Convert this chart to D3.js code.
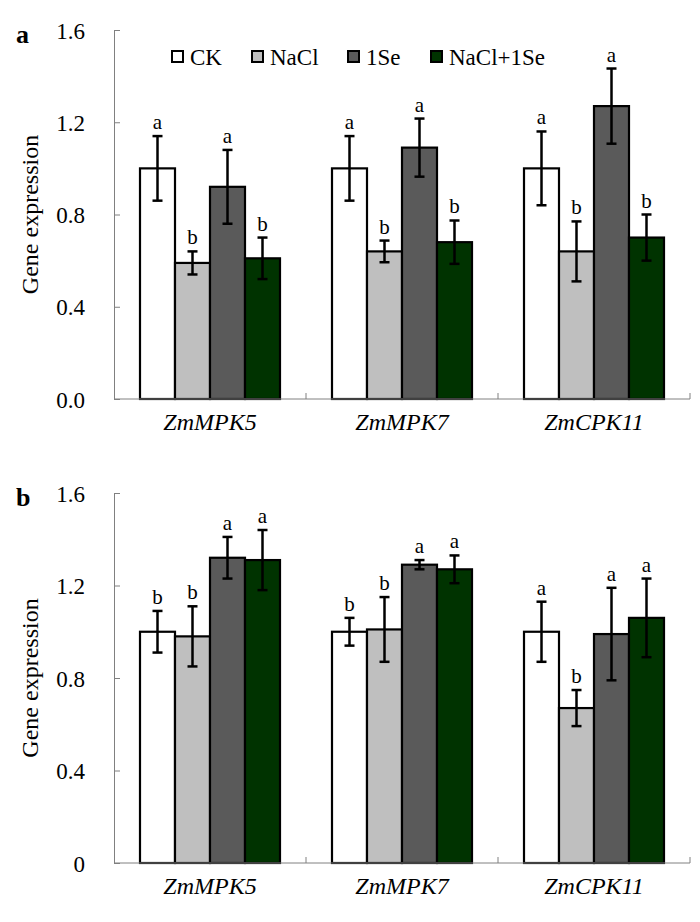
<!DOCTYPE html>
<html>
<head>
<meta charset="utf-8">
<script src="https://d3js.org/d3.v7.min.js"></script>
<style>
  body { margin: 0; background: #fff; }
  svg text { font-family: "Liberation Serif", "Times New Roman", serif; fill: #000; }
</style>
</head>
<body>
<div id="chart"></div>
<script>
// genes and treatments
var genes = ["ZmMPK5", "ZmMPK7", "ZmCPK11"];
var treatments = ["CK", "NaCl", "1Se", "NaCl+1Se"];
var colors = ["#ffffff", "#bfbfbf", "#5a5a5a", "#003300"];

// panel a: mean and error per gene (CK, NaCl, 1Se, NaCl+1Se)
var aMeans = [[1.00, 0.59, 0.92, 0.61], [1.00, 0.64, 1.09, 0.68], [1.00, 0.64, 1.27, 0.70]];
var aErrors = [[0.14, 0.05, 0.16, 0.09], [0.14, 0.047, 0.126, 0.094], [0.16, 0.13, 0.163, 0.10]];
var aLetters = [["a", "b", "a", "b"], ["a", "b", "a", "b"], ["a", "b", "a", "b"]];
var aTicks = ["0.0", "0.4", "0.8", "1.2", "1.6"];

// panel b
var bMeans = [[1.00, 0.98, 1.32, 1.31], [1.00, 1.01, 1.29, 1.27], [1.00, 0.67, 0.99, 1.06]];
var bErrors = [[0.09, 0.13, 0.09, 0.13], [0.06, 0.14, 0.02, 0.06], [0.13, 0.078, 0.20, 0.17]];
var bLetters = [["b", "b", "a", "a"], ["b", "b", "a", "a"], ["a", "b", "a", "a"]];
var bTicks = ["0", "0.4", "0.8", "1.2", "1.6"];

var tickValues = [0, 0.4, 0.8, 1.2, 1.6];

var width = 700, height = 922;
var left = 114, right = 690;

var svg = d3.select("#chart").append("svg")
    .attr("width", width)
    .attr("height", height);

var x = d3.scaleBand().domain(genes).range([left, right]).padding(0);
var xInner = d3.scaleBand().domain(treatments).range([26, x.bandwidth() - 26]).padding(0);

function drawPanel(label, top, bottom, means, errors, letters, tickLabels) {
    var y = d3.scaleLinear().domain([0, 1.6]).range([bottom, top]);
    var g = svg.append("g");

    // panel letter
    g.append("text")
        .attr("x", 16).attr("y", top + 13)
        .style("font-size", "26px").style("font-weight", "bold")
        .text(label);

    // y axis label
    g.append("text")
        .attr("transform", "translate(38," + ((top + bottom) / 2) + ") rotate(-90)")
        .attr("text-anchor", "middle")
        .style("font-size", "24px")
        .text("Gene expression");

    // bars
    var groups = g.selectAll("g.gene")
        .data(genes)
        .enter().append("g")
        .attr("class", "gene")
        .attr("transform", function(d) { return "translate(" + x(d) + ",0)"; });

    groups.each(function(gene, gi) {
        var grp = d3.select(this);
        var rows = treatments.map(function(t, ti) {
            return { t: t, v: means[gi][ti], e: errors[gi][ti], l: letters[gi][ti], c: colors[ti] };
        });
        grp.selectAll("rect")
            .data(rows)
            .enter().append("rect")
            .attr("x", function(d) { return xInner(d.t); })
            .attr("y", function(d) { return y(d.v); })
            .attr("width", xInner.bandwidth())
            .attr("height", function(d) { return y(0) - y(d.v); })
            .attr("fill", function(d) { return d.c; })
            .attr("stroke", "#000")
            .attr("stroke-width", 2.2);

        var eb = grp.selectAll("g.err")
            .data(rows)
            .enter().append("g")
            .attr("class", "err")
            .attr("stroke", "#000")
            .attr("stroke-width", 2.5);
        eb.append("line")
            .attr("x1", function(d) { return xInner(d.t) + xInner.bandwidth() / 2; })
            .attr("x2", function(d) { return xInner(d.t) + xInner.bandwidth() / 2; })
            .attr("y1", function(d) { return y(d.v + d.e); })
            .attr("y2", function(d) { return y(d.v - d.e); });
        [1, -1].forEach(function(s) {
            eb.append("line")
                .attr("x1", function(d) { return xInner(d.t) + xInner.bandwidth() / 2 - 5; })
                .attr("x2", function(d) { return xInner(d.t) + xInner.bandwidth() / 2 + 5; })
                .attr("y1", function(d) { return y(d.v + s * d.e); })
                .attr("y2", function(d) { return y(d.v + s * d.e); });
        });

        grp.selectAll("text.sig")
            .data(rows)
            .enter().append("text")
            .attr("class", "sig")
            .attr("x", function(d) { return xInner(d.t) + xInner.bandwidth() / 2; })
            .attr("y", function(d) { return y(d.v + d.e) - 7; })
            .attr("text-anchor", "middle")
            .style("font-size", "21px")
            .text(function(d) { return d.l; });
    });

    // y axis
    var yAxis = d3.axisLeft(y)
        .tickValues(tickValues)
        .tickSizeInner(-6)
        .tickSizeOuter(0)
        .tickPadding(29)
        .tickFormat(function(d, i) { return tickLabels[i]; });
    var ya = g.append("g")
        .attr("transform", "translate(" + left + ",0)")
        .call(yAxis);
    ya.select(".domain").attr("stroke", "#808080");
    ya.selectAll(".tick line").attr("stroke", "#808080");
    ya.selectAll(".tick text")
        .attr("dy", null).attr("y", 8)
        .style("font-size", "23px")
        .style("font-family", "'Liberation Serif', 'Times New Roman', serif");

    // x axis line and boundary ticks
    g.append("line")
        .attr("x1", left).attr("x2", right)
        .attr("y1", bottom).attr("y2", bottom)
        .attr("stroke", "#808080").attr("stroke-width", 1);
    g.selectAll("line.xt")
        .data(genes)
        .enter().append("line")
        .attr("class", "xt")
        .attr("x1", function(d) { return x(d) + x.bandwidth(); })
        .attr("x2", function(d) { return x(d) + x.bandwidth(); })
        .attr("y1", bottom).attr("y2", bottom - 6)
        .attr("stroke", "#808080").attr("stroke-width", 1);

    g.selectAll("text.gene")
        .data(genes)
        .enter().append("text")
        .attr("class", "gene")
        .attr("x", function(d) { return x(d) + x.bandwidth() / 2; })
        .attr("y", bottom + 31)
        .attr("text-anchor", "middle")
        .style("font-size", "24px")
        .style("font-style", "italic")
        .text(function(d) { return d; });
}

drawPanel("a", 30, 399, aMeans, aErrors, aLetters, aTicks);
drawPanel("b", 493, 863, bMeans, bErrors, bLetters, bTicks);

// legend
var legendX = [172, 252, 348, 431];
var legend = svg.append("g").selectAll("g")
    .data(treatments)
    .enter().append("g")
    .attr("transform", function(d, i) { return "translate(" + legendX[i] + ",51)"; });
legend.append("rect")
    .attr("width", 11).attr("height", 11)
    .attr("fill", function(d, i) { return colors[i]; })
    .attr("stroke", "#000").attr("stroke-width", 2);
legend.append("text")
    .attr("x", 18).attr("y", 14)
    .style("font-size", "23px")
    .text(function(d) { return d; });
</script>
</body>
</html>
